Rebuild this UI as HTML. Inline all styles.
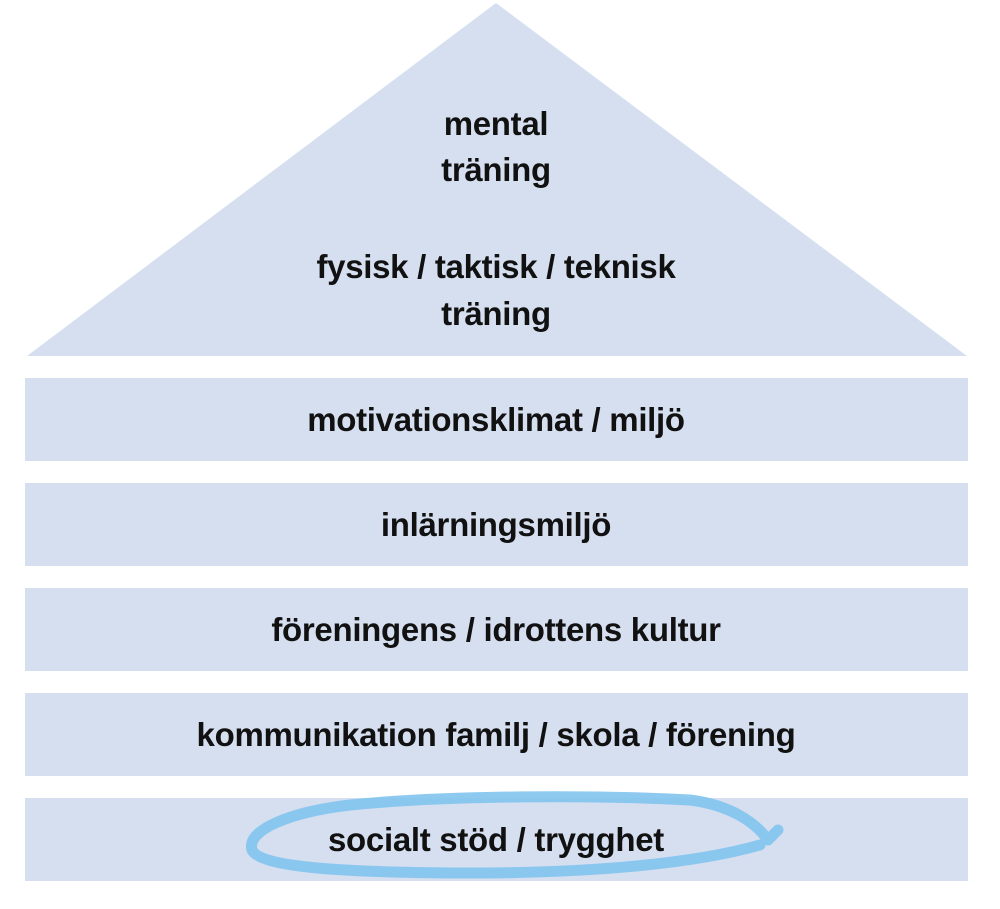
<!DOCTYPE html>
<html><head><meta charset="utf-8"><style>
body{margin:0;background:#fff;width:1000px;height:904px;overflow:hidden}
svg text{font-family:"Liberation Sans Narrow","Liberation Sans",sans-serif;font-weight:bold;font-size:33px;fill:#111;text-anchor:middle;letter-spacing:-0.3px}
</style></head><body>
<svg width="1000" height="904" viewBox="0 0 1000 904">
<polygon points="496,3 967,356 27,356" fill="#d6dff0"/>
<rect x="25" y="378" width="943" height="83" fill="#d6dff0"/>
<rect x="25" y="483" width="943" height="83" fill="#d6dff0"/>
<rect x="25" y="588" width="943" height="83" fill="#d6dff0"/>
<rect x="25" y="693" width="943" height="83" fill="#d6dff0"/>
<rect x="25" y="798" width="943" height="83" fill="#d6dff0"/>
<text x="496" y="135">mental</text>
<text x="496" y="181">träning</text>
<text x="496" y="278">fysisk / taktisk / teknisk</text>
<text x="496" y="325">träning</text>
<text x="496" y="431">motivationsklimat / miljö</text>
<text x="496" y="536">inlärningsmiljö</text>
<text x="496" y="641">föreningens / idrottens kultur</text>
<text x="496" y="746">kommunikation familj / skola / förening</text>
<text x="496" y="851">socialt stöd / trygghet</text>
<path d="M760,845 C700,862 600,874 450,873 C330,872 260,866 252,850 C246,830 290,812 350,805 C450,795 600,795 690,800 C730,805 755,822 768,840 M768,840 L778,830" fill="none" stroke="#82c4ee" stroke-width="11" stroke-linecap="round" stroke-linejoin="round" opacity="0.9"/>
</svg>
</body></html>
